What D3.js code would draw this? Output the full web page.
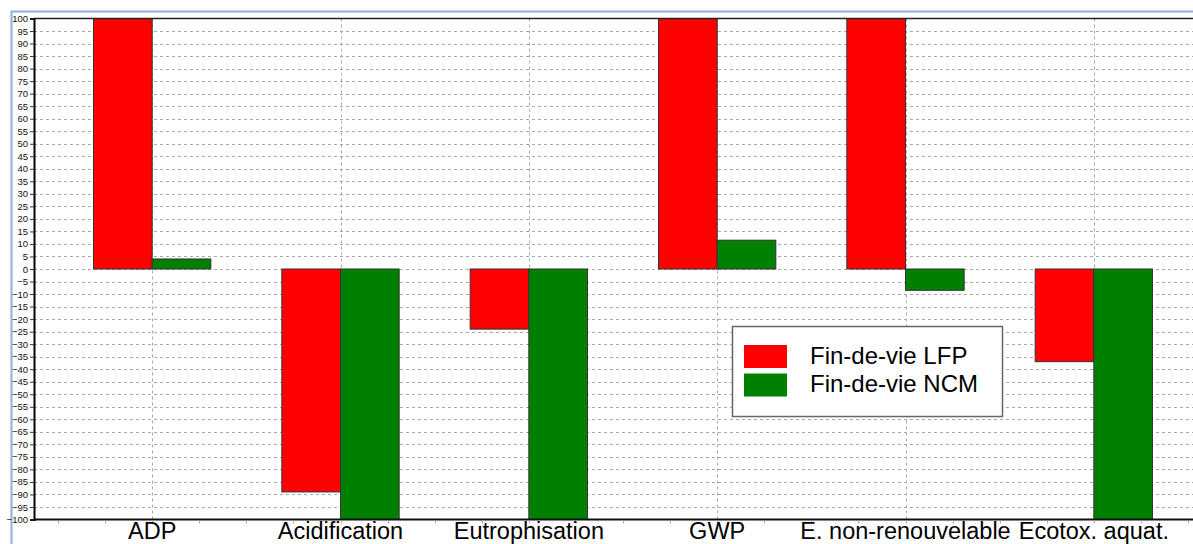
<!DOCTYPE html>
<html>
<head>
<meta charset="utf-8">
<script src="https://cdn.jsdelivr.net/npm/d3@7/dist/d3.min.js"></script>
<style>
  html, body { margin: 0; padding: 0; background: #fff; overflow: hidden; }
  svg { display: block; }
</style>
</head>
<body>
<svg id="chart" width="1193" height="544"></svg>
<script>
const categories = ["ADP", "Acidification", "Eutrophisation", "GWP", "E. non-renouvelable", "Ecotox. aquat."];
const seriesNames = ["Fin-de-vie LFP", "Fin-de-vie NCM"];
const lfpValues = [100, -89, -24, 100, 100, -37];
const ncmValues = [4, -100, -100, 11.5, -8.5, -100];
const yTicks = d3.range(-100, 101, 5);
const seriesColors = ["#ff0000", "#008000"];

const W = 1193, H = 544;
const plot = { left: 34, top: 18.5, right: 1212, bottom: 519.5 };
const svg = d3.select("#chart");

// outer frame (blue)
svg.append("rect").attr("x", 11.5).attr("y", 11.5).attr("width", W + 20).attr("height", H + 20)
  .attr("fill", "none").attr("stroke", "#8fb0d8").attr("stroke-width", 2);

const x = d3.scaleBand().domain(categories).range([58, 1188]).padding(0);
const barGroupW = x.bandwidth() * 0.623;
const xs = d3.scaleBand().domain(seriesNames).range([0, barGroupW]).padding(0);
const y = d3.scaleLinear().domain([-100, 100]).range([plot.bottom, plot.top]);

// horizontal grid
svg.append("g").selectAll("line").data(yTicks.filter(t => t > -100 && t < 100)).join("line")
  .attr("x1", plot.left).attr("x2", plot.right)
  .attr("y1", d => Math.round(y(d)) + 0.5).attr("y2", d => Math.round(y(d)) + 0.5)
  .attr("stroke", "#a8a8a8").attr("stroke-width", 1).attr("stroke-dasharray", "3,3");

// vertical grid at category centers
svg.append("g").selectAll("line").data(categories).join("line")
  .attr("x1", d => Math.round(x(d) + x.bandwidth() / 2) + 0.5)
  .attr("x2", d => Math.round(x(d) + x.bandwidth() / 2) + 0.5)
  .attr("y1", plot.top).attr("y2", plot.bottom)
  .attr("stroke", "#a8a8a8").attr("stroke-width", 1).attr("stroke-dasharray", "3,3");

// bars
const rows = categories.map((c, i) => ({ cat: c, vals: [lfpValues[i], ncmValues[i]] }));
const g = svg.append("g").selectAll("g").data(rows).join("g")
  .attr("transform", d => `translate(${x(d.cat) + x.bandwidth() / 2 - barGroupW / 2},0)`);
g.selectAll("rect").data(d => d.vals.map((v, j) => ({ v, s: seriesNames[j], j }))).join("rect")
  .attr("x", d => xs(d.s))
  .attr("width", xs.bandwidth())
  .attr("y", d => Math.min(y(d.v), y(0)))
  .attr("height", d => Math.abs(y(d.v) - y(0)))
  .attr("fill", d => seriesColors[d.j])
  .attr("stroke", "#333").attr("stroke-width", 1);

// plot frame lines
svg.append("line").attr("x1", plot.left).attr("x2", plot.right).attr("y1", plot.top).attr("y2", plot.top)
  .attr("stroke", "#222").attr("stroke-width", 1.5);
svg.append("line").attr("x1", plot.left).attr("x2", plot.right).attr("y1", plot.bottom).attr("y2", plot.bottom)
  .attr("stroke", "#111").attr("stroke-width", 2);

// x minor ticks (quarters of band)
const xMinor = [];
categories.forEach(c => { for (let k = 0; k < 4; k++) xMinor.push(x(c) + k * x.bandwidth() / 4); });
xMinor.push(x(categories[categories.length - 1]) + x.bandwidth());
svg.append("g").selectAll("line").data(xMinor).join("line")
  .attr("x1", d => Math.round(d) + 0.5).attr("x2", d => Math.round(d) + 0.5)
  .attr("y1", plot.bottom + 1).attr("y2", plot.bottom + 4)
  .attr("stroke", "#aaa").attr("stroke-width", 1);

// y axis
const yAxis = d3.axisLeft(y).tickValues(yTicks).tickSize(4).tickPadding(2).tickFormat(d3.format("d"));
const ya = svg.append("g").attr("transform", `translate(${plot.left},0)`).call(yAxis);
ya.select(".domain").attr("stroke", "#000").attr("stroke-width", 2);
ya.selectAll(".tick line").attr("stroke", "#333");
ya.selectAll(".tick text").attr("font-family", "'Liberation Sans', Arial, sans-serif")
  .attr("font-size", "9.5px").attr("fill", "#111");

// x category labels
const xAxis = d3.axisBottom(x).tickSize(0).tickPadding(0);
const xa = svg.append("g").attr("transform", `translate(0,${plot.bottom})`).call(xAxis);
xa.select(".domain").remove();
xa.selectAll(".tick text").attr("font-family", "'Liberation Sans', Arial, sans-serif")
  .attr("font-size", "23.5px").attr("fill", "#000").attr("dy", null).attr("y", 19.5);

// legend
const lg = svg.append("g").attr("transform", "translate(732,326)");
lg.append("rect").attr("x", 0.5).attr("y", 0.5).attr("width", 270).attr("height", 90)
  .attr("fill", "#fff").attr("stroke", "#666").attr("stroke-width", 1.5);
seriesNames.forEach((s, i) => {
  lg.append("rect").attr("x", 12).attr("y", 19 + i * 28.5).attr("width", 43).attr("height", 23)
    .attr("fill", seriesColors[i]);
  lg.append("text").attr("x", 78).attr("y", 38 + i * 28)
    .attr("font-family", "'Liberation Sans', Arial, sans-serif").attr("font-size", "24px")
    .attr("fill", "#000").text(s);
});
</script>
</body>
</html>
